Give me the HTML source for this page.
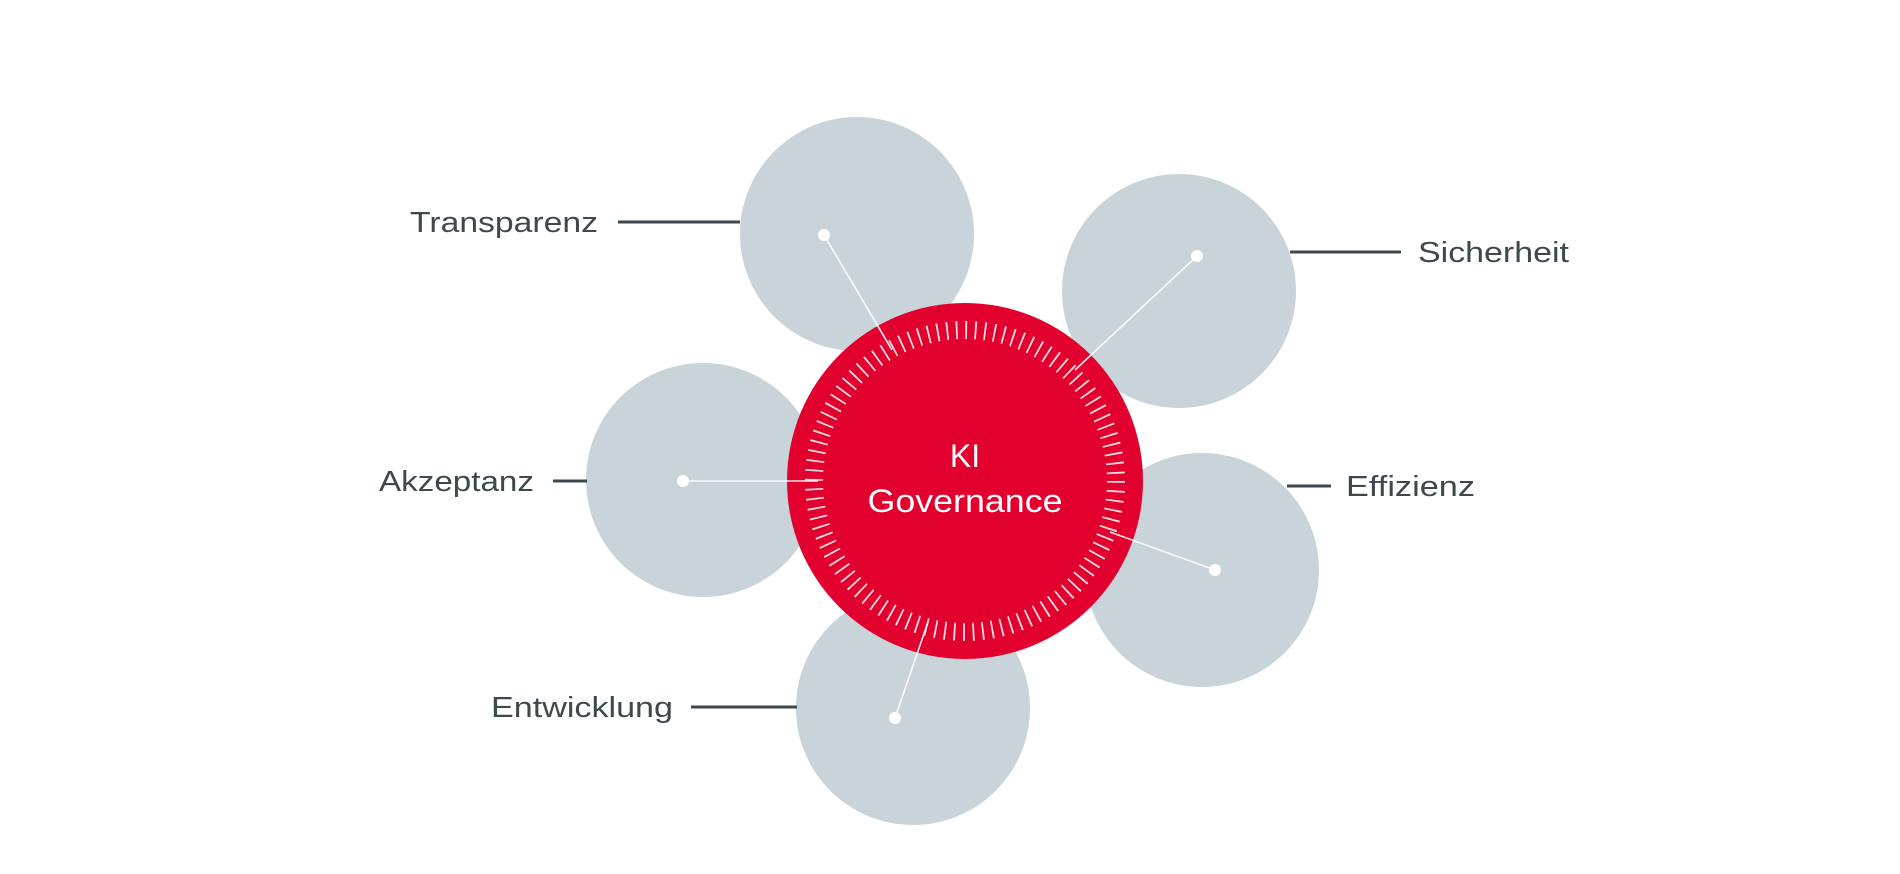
<!DOCTYPE html>
<html><head><meta charset="utf-8"><style>
html,body{margin:0;padding:0;background:#fff;}
svg{display:block;}
.lbl{font-family:"Liberation Sans",sans-serif;font-size:29px;fill:#3d494e;}
.ctr{font-family:"Liberation Sans",sans-serif;font-size:32px;fill:#fff;}
</style></head><body>
<svg width="1900" height="874" viewBox="0 0 1900 874" xmlns="http://www.w3.org/2000/svg">
<g fill="#c9d4da">
<circle cx="857" cy="234" r="117"/>
<circle cx="1179" cy="291" r="117"/>
<circle cx="703" cy="480" r="117"/>
<circle cx="1202" cy="570" r="117"/>
<circle cx="913" cy="708" r="117"/>
</g>
<g stroke="#3b484d" stroke-width="3">
<line x1="618" y1="222" x2="740" y2="222"/>
<line x1="1290" y1="252" x2="1401" y2="252"/>
<line x1="553" y1="481" x2="587" y2="481"/>
<line x1="1287" y1="486" x2="1331" y2="486"/>
<line x1="691" y1="707" x2="797" y2="707"/>
</g>
<text class="lbl" x="410" y="232" textLength="188" lengthAdjust="spacingAndGlyphs">Transparenz</text>
<text class="lbl" x="1418" y="262" textLength="151" lengthAdjust="spacingAndGlyphs">Sicherheit</text>
<text class="lbl" x="379" y="491" textLength="155" lengthAdjust="spacingAndGlyphs">Akzeptanz</text>
<text class="lbl" x="1346" y="496" textLength="129" lengthAdjust="spacingAndGlyphs">Effizienz</text>
<text class="lbl" x="491" y="717" textLength="182" lengthAdjust="spacingAndGlyphs">Entwicklung</text>
<circle cx="965" cy="481" r="178" fill="#e2002f"/>
<circle cx="965" cy="481" r="151" fill="none" stroke="#ffffff" stroke-opacity="0.85" stroke-width="18" stroke-dasharray="1.8 7.688"/>
<g stroke="#ffffff" stroke-opacity="0.9" stroke-width="1.6" fill="none">
<line x1="824" y1="235" x2="892" y2="350"/>
<line x1="1197" y1="256" x2="1075" y2="370"/>
<line x1="683" y1="481" x2="818" y2="481"/>
<line x1="1215" y1="570" x2="1110" y2="532"/>
<line x1="895" y1="718" x2="928" y2="622"/>
</g>
<g fill="#ffffff">
<circle cx="824" cy="235" r="6"/>
<circle cx="1197" cy="256" r="6"/>
<circle cx="683" cy="481" r="6"/>
<circle cx="1215" cy="570" r="6"/>
<circle cx="895" cy="718" r="6"/>
</g>
<text class="ctr" x="965" y="467" text-anchor="middle">KI</text>
<text class="ctr" x="965" y="512" text-anchor="middle" textLength="195" lengthAdjust="spacingAndGlyphs">Governance</text>
</svg>
</body></html>
